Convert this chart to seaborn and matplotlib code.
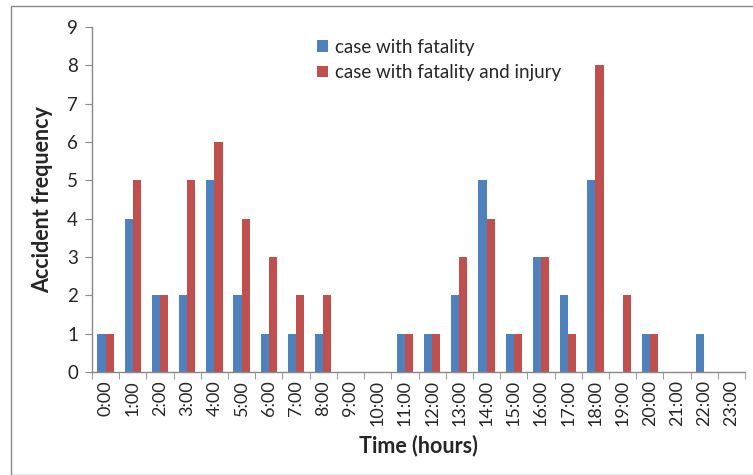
import numpy as np
import pandas as pd
import matplotlib
matplotlib.use("Agg")
import matplotlib.pyplot as plt
import seaborn as sns
from matplotlib.patches import Rectangle

# data
hours = ["%d:00" % h for h in range(24)]
fatality = [1, 4, 2, 2, 5, 2, 1, 1, 1, 0, 0, 1, 1, 2, 5, 1, 3, 2, 5, 0, 1, 0, 1, 0]
fatality_injury = [1, 5, 2, 5, 6, 4, 3, 2, 2, 0, 0, 1, 1, 3, 4, 1, 3, 1, 8, 2, 1, 0, 0, 0]
series_names = ["case with fatality", "case with fatality and injury"]

df = pd.DataFrame({
    "hour": hours * 2,
    "count": fatality + fatality_injury,
    "series": [series_names[0]] * 24 + [series_names[1]] * 24,
})

sns.set_style("white")
plt.rcParams["font.family"] = ["Lato", "DejaVu Sans"]

fig = plt.figure(figsize=(7.53, 4.75), dpi=100)
ax = fig.add_axes([92 / 753, 1 - 372 / 475, 653 / 753, 345 / 475])

sns.barplot(data=df, x="hour", y="count", hue="series", order=hours,
            hue_order=series_names, palette=["#4F81BD", "#C0504D"],
            width=0.6, saturation=1, ax=ax, edgecolor="none")

ax.set_xlim(-0.5, 23.5)
ax.set_ylim(0, 9)
ax.set_yticks(range(10))
ax.set_xticks(range(24))
ax.set_xticklabels(hours, rotation=90, fontsize=13)
ax.tick_params(axis="y", labelsize=13.5, length=5, color="#888888", direction="out", left=True, pad=5)
ax.tick_params(axis="x", which="major", length=0, pad=6)
ax.set_xticks(np.arange(-0.5, 24, 1), minor=True)
ax.tick_params(axis="x", which="minor", length=5, color="#888888", direction="out", bottom=True)

for side in ["top", "right"]:
    ax.spines[side].set_visible(False)
for side in ["left", "bottom"]:
    ax.spines[side].set_color("#888888")
    ax.spines[side].set_linewidth(1)

ax.set_xlabel("Time (hours)", fontsize=15.5, fontweight="bold", labelpad=6)
ax.set_ylabel("Accident frequency", fontsize=15.5, fontweight="bold", labelpad=10)

leg = ax.legend(loc="upper left", bbox_to_anchor=(0.318, 1.015), frameon=False,
                fontsize=13.5, handlelength=0.6, handleheight=0.6,
                handletextpad=0.4, labelspacing=0.45)

# outer chart border like the spreadsheet export
fig.patches.append(Rectangle((11 / 753, 0), 1.2, 1 - 6 / 475, transform=fig.transFigure,
                             fill=False, edgecolor="#888888", linewidth=1))

fig.savefig("out.png", dpi=100)
